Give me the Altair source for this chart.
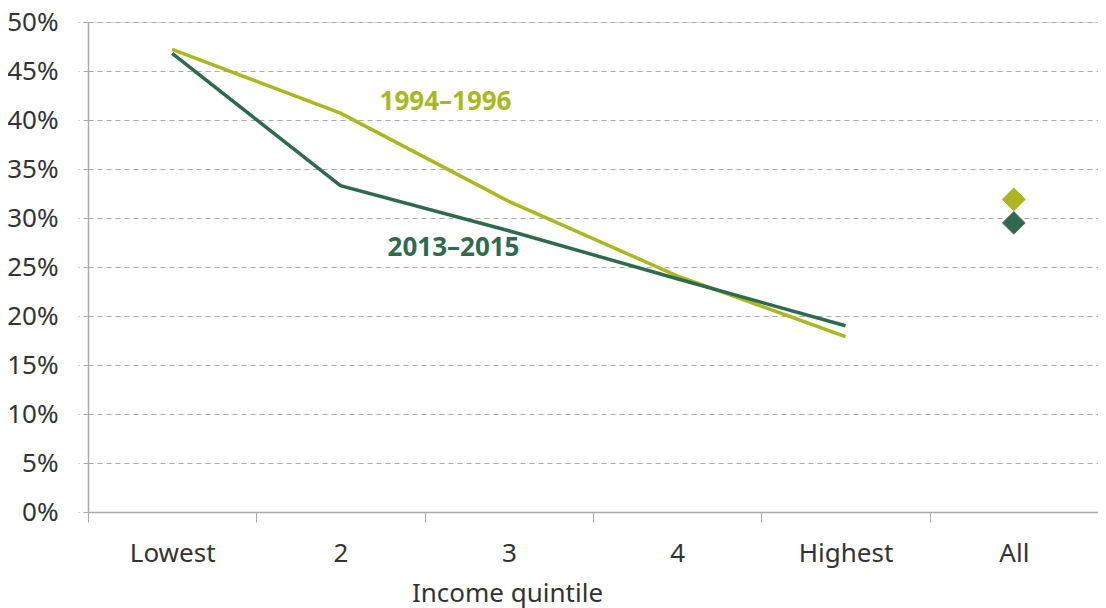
import altair as alt
import pandas as pd

categories = ["Lowest", "2", "3", "4", "Highest"]
series_a_name = "1994\u20131996"
series_b_name = "2013\u20132015"
series_a = [47.2, 40.7, 31.7, 24.1, 17.9]
series_b = [46.8, 33.3, 28.7, 23.8, 19.0]
all_label = "All"
all_a = 31.9
all_b = 29.5
x_order = categories + [all_label]
y_ticks = [0, 5, 10, 15, 20, 25, 30, 35, 40, 45, 50]

col_a = "#a9b81f"
col_b = "#2f6a4e"
FONT = "Noto Sans"
FS = 26

rows = []
for c, v in zip(categories, series_a):
    rows.append({"cat": c, "val": v, "series": series_a_name})
for c, v in zip(categories, series_b):
    rows.append({"cat": c, "val": v, "series": series_b_name})
lines_df = pd.DataFrame(rows)
pts_df = pd.DataFrame([
    {"cat": all_label, "val": all_a, "series": series_a_name},
    {"cat": all_label, "val": all_b, "series": series_b_name},
])
label_a_df = pd.DataFrame([{"cat": "2", "val": 41.8, "series": series_a_name, "txt": series_a_name}])
label_b_df = pd.DataFrame([{"cat": "2", "val": 26.9, "series": series_b_name, "txt": series_b_name}])

xenc = alt.X(
    "cat:N",
    sort=x_order,
    scale=alt.Scale(domain=x_order, paddingInner=0, paddingOuter=0),
    axis=alt.Axis(
        title="Income quintile",
        titleFont=FONT, titleFontSize=FS, titleFontWeight="normal", titleColor="#333333",
        titleX=419, titleAlign="center", titlePadding=14,
        labelFont=FONT, labelFontSize=FS, labelColor="#333333", labelAngle=0,
        labelPadding=18,
        tickBand="extent", tickSize=10, tickColor="#aaaaaa",
        domainColor="#aaaaaa", domainWidth=1.5, grid=False,
    ),
)
yenc = alt.Y(
    "val:Q",
    scale=alt.Scale(domain=[0, 50], nice=False),
    axis=alt.Axis(
        title=None, values=y_ticks,
        labelExpr="datum.value + '%'",
        labelFont=FONT, labelFontSize=FS, labelColor="#333333",
        labelPadding=20, tickSize=10, tickColor="#aaaaaa", tickDash=[5, 4],
        grid=True, gridColor="#aaaaaa", gridDash=[5, 4], gridWidth=1,
        domainColor="#aaaaaa", domainWidth=1.5,
    ),
)
color = alt.Color(
    "series:N",
    scale=alt.Scale(domain=[series_a_name, series_b_name], range=[col_a, col_b]),
    legend=None,
)
stroke = alt.Stroke(
    "series:N",
    scale=alt.Scale(domain=[series_a_name, series_b_name], range=[col_a, "#6b6b6b"]),
    legend=None,
)

lines = alt.Chart(lines_df).mark_line(strokeWidth=3.5).encode(
    x=xenc, y=yenc, color=color, detail="series:N"
)
pts = alt.Chart(pts_df).mark_point(
    shape="diamond", filled=True, size=520, opacity=1, strokeWidth=1
).encode(x=xenc, y=yenc, color=color, stroke=stroke)
text_a = alt.Chart(label_a_df).mark_text(
    font=FONT, fontSize=26, fontWeight="bold", dx=105, align="center", baseline="middle"
).encode(x=xenc, y=yenc, color=color, text="txt:N")
text_b = alt.Chart(label_b_df).mark_text(
    font=FONT, fontSize=26, fontWeight="bold", dx=113, align="center", baseline="middle"
).encode(x=xenc, y=yenc, color=color, text="txt:N")

chart = alt.layer(lines, pts, text_a, text_b).properties(
    width=1010, height=490,
    autosize=alt.AutoSizeParams(type="none"),
    padding={"left": 80, "right": 0, "top": 14, "bottom": 96},
).configure_view(stroke=None).configure(background="white")

chart.save("out.html", embed_options={"renderer": "svg", "actions": False})
